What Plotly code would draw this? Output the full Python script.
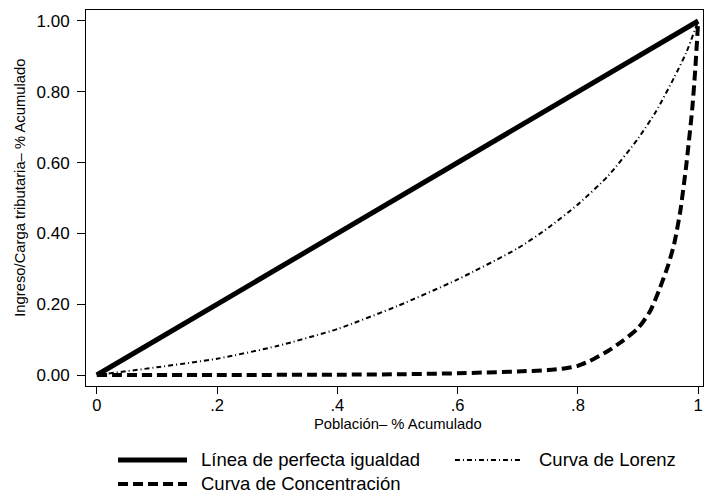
import plotly.graph_objects as go

# ---- data ----
equality_x = [0.0, 1.0]
equality_y = [0.0, 1.0]

lorenz_x = [0.0, 0.1, 0.2, 0.3, 0.4, 0.5, 0.6, 0.7, 0.75, 0.8, 0.85, 0.9, 0.93,
            0.96, 0.98, 1.0]
lorenz_y = [0.0, 0.022, 0.046, 0.082, 0.130, 0.195, 0.270, 0.358, 0.415, 0.482,
            0.562, 0.668, 0.745, 0.840, 0.910, 1.0]

conc_x = [0.0, 0.2, 0.4, 0.5, 0.6, 0.7, 0.75, 0.78, 0.8, 0.82, 0.85, 0.875, 0.9,
          0.92, 0.935, 0.95, 0.96, 0.97, 0.98, 0.99, 0.995, 1.0]
conc_y = [0.0, 0.0, 0.001, 0.002, 0.005, 0.010, 0.014, 0.019, 0.026, 0.040, 0.068,
          0.097, 0.132, 0.180, 0.240, 0.310, 0.370, 0.460, 0.590, 0.750, 0.860, 1.0]

x_tickvals = [0, 0.2, 0.4, 0.6, 0.8, 1.0]
x_ticktext = ["0", ".2", ".4", ".6", ".8", "1"]
y_tickvals = [0, 0.2, 0.4, 0.6, 0.8, 1.0]

names = ["Línea de perfecta igualdad", "Curva de Lorenz", "Curva de Concentración"]
x_title = "Población– % Acumulado"
y_title = "Ingreso/Carga tributaria– % Acumulado"

FONT = "Liberation Sans, Arial, Helvetica, sans-serif"

styles = [
    dict(width=5, dash="solid"),
    dict(width=2, dash="5px,3px,1px,3px"),
    dict(width=4, dash="10px,5px"),
]

fig = go.Figure()
for xs, ys, nm, st in zip([equality_x, lorenz_x, conc_x],
                          [equality_y, lorenz_y, conc_y], names, styles):
    fig.add_trace(go.Scatter(x=xs, y=ys, mode="lines", name=nm,
                             line=dict(color="black", width=st["width"], dash=st["dash"],
                                       shape="spline", smoothing=0.6),
                             showlegend=False))

fig.update_layout(
    width=704, height=493,
    margin=dict(l=86, r=1, t=10, b=107),
    paper_bgcolor="white", plot_bgcolor="white",
    font=dict(family=FONT, color="black"),
)
fig.update_xaxes(range=[-0.018, 1.008], tickvals=x_tickvals, ticktext=x_ticktext,
                 showgrid=False, zeroline=False, showline=True, linecolor="black",
                 linewidth=1, mirror=True, ticks="outside", ticklen=7, tickwidth=1,
                 tickcolor="black", tickfont=dict(size=16.5, family=FONT),
                 ticklabelstandoff=-3)
fig.update_yaxes(range=[-0.031, 1.031], tickvals=y_tickvals, tickformat=".2f",
                 showgrid=False, zeroline=False, showline=True, linecolor="black",
                 linewidth=1, mirror=True, ticks="outside", ticklen=8, tickwidth=1,
                 tickcolor="black", tickfont=dict(size=17, family=FONT),
                 ticklabelstandoff=4)

# axis titles
fig.add_annotation(text=x_title, xref="paper", yref="paper", x=0.505, y=-0.101,
                   xanchor="center", yanchor="middle", showarrow=False,
                   font=dict(size=14.8, family=FONT))
fig.add_annotation(text=y_title, xref="paper", yref="paper", x=-0.107, y=0.527,
                   xanchor="center", yanchor="middle", textangle=-90, showarrow=False,
                   font=dict(size=14.8, family=FONT))

# custom legend (paper coordinates)
leg_rows = [(-0.1968, 0.0519, 0.1637, 0.1831),
            (-0.1968, 0.598, 0.7034, 0.731),
            (-0.2606, 0.0519, 0.1637, 0.1831)]
for (ly, x0, x1, tx), nm, st in zip(leg_rows, names, styles):
    fig.add_shape(type="line", xref="paper", yref="paper", x0=x0, x1=x1, y0=ly, y1=ly,
                  line=dict(color="black", width=st["width"], dash=st["dash"]))
    fig.add_annotation(text=nm, xref="paper", yref="paper", x=tx, y=ly,
                       xanchor="left", yanchor="middle", showarrow=False,
                       font=dict(size=18.5, family=FONT))

fig.write_html("out.html", config={"displayModeBar": False},
               post_script="document.body.style.margin='0';"
                           "document.body.style.overflow='hidden';"
                           "document.documentElement.style.overflow='hidden';")
